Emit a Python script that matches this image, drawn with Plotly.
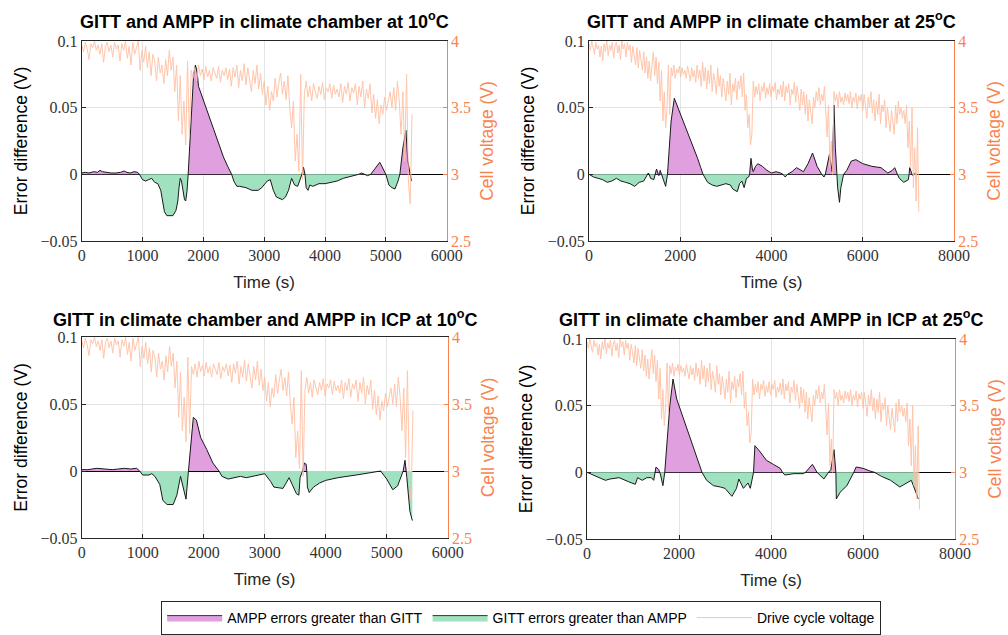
import numpy as np
import plotly.graph_objects as go

# ---------------- data ----------------
V_STEP = 30  # s, sampling of drive-cycle voltage
volt_10 = [
    3.97, 3.92, 3.99, 3.94, 3.86, 3.98, 3.95, 4.00, 3.93, 3.97,
    3.90, 3.98, 3.84, 3.96, 3.99, 3.92, 3.97, 3.88, 3.99, 3.94,
    3.97, 3.85, 3.98, 3.93, 4.00, 3.87, 3.96, 3.82, 3.99, 3.90,
    3.95, 4.00, 3.78, 3.93, 3.84, 3.96, 3.80, 3.92, 3.74, 3.90,
    3.85, 3.70, 3.88, 3.76, 3.82, 3.68, 3.86, 3.74, 3.93, 3.78,
    3.88, 3.62, 3.82, 3.40, 3.74, 3.30, 3.55, 3.22, 3.85, 3.28,
    3.78, 3.72, 3.80, 3.70, 3.82, 3.74, 3.79, 3.71, 3.81, 3.73,
    3.78, 3.70, 3.80, 3.75, 3.72, 3.81, 3.69, 3.78, 3.74, 3.80,
    3.71, 3.79, 3.66, 3.80, 3.73, 3.82, 3.65, 3.78, 3.70, 3.83,
    3.67, 3.80, 3.72, 3.62, 3.78, 3.68, 3.82, 3.64, 3.76, 3.60,
    3.70, 3.52, 3.66, 3.48, 3.62, 3.55, 3.72, 3.58, 3.68, 3.76,
    3.60, 3.70, 3.56, 3.74, 3.50, 3.35, 3.55, 3.10, 3.30, 3.02,
    3.75, 2.96, 3.60, 3.70, 3.58, 3.66, 3.55, 3.68, 3.62, 3.57,
    3.66, 3.60, 3.69, 3.56, 3.65, 3.62, 3.68, 3.57, 3.67, 3.60,
    3.64, 3.58, 3.68, 3.54, 3.66, 3.60, 3.69, 3.55, 3.65, 3.61,
    3.68, 3.52, 3.66, 3.58, 3.70, 3.50, 3.64, 3.57, 3.68, 3.46,
    3.60, 3.42, 3.56, 3.38, 3.52, 3.45, 3.58, 3.48, 3.55, 3.62,
    3.50, 3.65, 3.48, 3.70, 3.55, 3.30, 3.62, 3.10, 3.75, 2.95,
    2.78, 3.45,
]
volt_25 = [
    3.98, 3.93, 4.00, 3.95, 3.90, 3.99, 3.94, 3.97, 3.88, 3.96,
    3.85, 3.98, 3.92, 4.00, 3.89, 3.97, 3.93, 3.99, 3.87, 3.96,
    3.99, 3.91, 3.97, 3.86, 4.00, 3.94, 3.98, 3.88, 3.99, 3.93,
    3.97, 3.84, 3.96, 3.90, 3.82, 3.95, 3.80, 3.93, 3.86, 3.78,
    3.92, 3.76, 3.88, 3.72, 3.85, 3.70, 3.82, 3.92, 3.74, 3.88,
    3.68, 3.84, 3.55, 3.78, 3.40, 3.62, 3.35, 3.50, 3.82, 3.45,
    3.80, 3.74, 3.82, 3.72, 3.79, 3.76, 3.81, 3.73, 3.80, 3.75,
    3.78, 3.72, 3.81, 3.74, 3.70, 3.80, 3.73, 3.78, 3.69, 3.82,
    3.72, 3.78, 3.66, 3.84, 3.70, 3.80, 3.64, 3.78, 3.68, 3.82,
    3.62, 3.76, 3.70, 3.60, 3.80, 3.66, 3.74, 3.58, 3.72, 3.64,
    3.55, 3.70, 3.60, 3.76, 3.52, 3.68, 3.62, 3.72, 3.56, 3.70,
    3.64, 3.74, 3.58, 3.76, 3.48, 3.60, 3.35, 3.45, 3.22, 3.30,
    3.70, 3.58, 3.66, 3.60, 3.68, 3.55, 3.66, 3.62, 3.69, 3.57,
    3.65, 3.60, 3.68, 3.58, 3.66, 3.62, 3.69, 3.56, 3.64, 3.60,
    3.67, 3.58, 3.70, 3.55, 3.66, 3.61, 3.68, 3.52, 3.64, 3.60,
    3.69, 3.54, 3.66, 3.58, 3.48, 3.64, 3.52, 3.62, 3.45, 3.60,
    3.40, 3.56, 3.48, 3.38, 3.58, 3.50, 3.62, 3.55, 3.65, 3.52,
    3.60, 3.55, 3.66, 3.48, 3.28, 3.52, 3.05, 3.25, 3.00, 3.62,
    3.55, 3.60, 3.50, 3.62, 3.54, 3.58, 3.52, 3.61, 3.55, 3.60,
    3.53, 3.62, 3.50, 3.58, 3.54, 3.61, 3.49, 3.59, 3.55, 3.60,
    3.48, 3.60, 3.52, 3.42, 3.58, 3.50, 3.62, 3.46, 3.56, 3.40,
    3.55, 3.45, 3.60, 3.38, 3.52, 3.47, 3.56, 3.35, 3.50, 3.42,
    3.32, 3.48, 3.40, 3.30, 3.52, 3.38, 3.55, 3.45, 3.50, 3.42,
    3.48, 3.38, 3.52, 3.20, 3.40, 3.05, 3.50, 2.90, 3.20, 2.80,
    3.35, 2.72,
]

t_cc10 = [0, 60, 120, 200, 260, 300, 340, 400, 480, 560, 640, 700, 740, 800, 860, 920, 950,
          1000, 1050, 1100, 1150, 1200, 1250, 1300, 1330, 1360, 1400, 1450, 1500, 1550, 1580,
          1600, 1620, 1640, 1660, 1690, 1710, 1730, 1750, 1800, 1840, 1870, 1900, 1920, 1980,
          2055, 2140, 2220, 2280, 2330, 2400, 2465, 2500, 2550, 2600, 2700, 2800, 2900, 2960,
          3000, 3050, 3100, 3150, 3200, 3300, 3350, 3400, 3450, 3500, 3550, 3590, 3620, 3645,
          3670, 3690, 3720, 3750, 3800, 3900, 4000, 4100, 4200, 4300, 4400, 4500, 4550, 4600,
          4650, 4700, 4750, 4900, 5000, 5050, 5100, 5150, 5200, 5230, 5280, 5330, 5360, 5400, 5420]
e_cc10 = [0.001, 0.0015, 0.001, 0.002, 0.0015, 0.003, 0.002, 0.0015, 0.001, 0.001, 0.0015, 0.0025,
          0.0015, 0.001, 0.002, 0.0015, 0.0,
          -0.004, -0.005, -0.004, -0.003, -0.006, -0.007, -0.012, -0.02, -0.028, -0.031, -0.031,
          -0.031, -0.027, -0.02, -0.01, -0.003, -0.005, -0.012, -0.019, -0.02, -0.013, 0.0, 0.04,
          0.075, 0.082, 0.076, 0.066, 0.058, 0.048, 0.037, 0.026, 0.019, 0.013, 0.006, 0.0,
          -0.005, -0.009, -0.009, -0.01, -0.012, -0.012, -0.01, -0.008, -0.005, -0.004, -0.012,
          -0.017, -0.019, -0.017, -0.012, -0.003, -0.008, -0.009, -0.004, 0.0, 0.0055, 0.0,
          -0.01, -0.012, -0.008, -0.009, -0.007, -0.007, -0.006, -0.005, -0.003, -0.002, -0.001,
          0.0, 0.001, 0.0, -0.001, 0.0, 0.009, 0.0, -0.008, -0.01, -0.011, -0.005, 0.0, 0.02,
          0.033, 0.01, 0.0, -0.005]

t_cc25 = [0, 100, 200, 300, 400, 500, 600, 700, 800, 900, 1000, 1100, 1200, 1250, 1280, 1300,
          1320, 1350, 1420, 1450, 1480, 1520, 1530, 1545, 1560, 1590, 1620, 1680, 1720, 1800,
          1870, 1950, 2100, 2200, 2300, 2380, 2450, 2500, 2600, 2700, 2800, 2900, 3000, 3100,
          3150, 3250, 3300, 3350, 3400, 3450, 3500, 3520, 3550, 3580, 3600, 3650, 3700, 3800,
          3900, 4000, 4100, 4200, 4250, 4300, 4350, 4450, 4550, 4700, 4800, 4900, 5000, 5100,
          5150, 5180, 5200, 5270, 5330, 5370, 5400, 5430, 5450, 5490, 5520, 5580, 5650, 5750,
          5850, 6000, 6200, 6400, 6550, 6650, 6700, 6760, 6800, 6900, 7000, 7015, 7030, 7080,
          7100, 7150, 7180]
e_cc25 = [0.0, -0.002, -0.003, -0.004, -0.006, -0.005, -0.003, -0.005, -0.006, -0.007, -0.009,
          -0.006, -0.005, -0.002, 0.0, 0.001, 0.0, -0.003, -0.004, 0.0, 0.004, 0.0, -0.001, 0.0,
          0.003, 0.0, -0.003, -0.009, 0.0, 0.04, 0.057, 0.05, 0.036, 0.028, 0.02, 0.012, 0.005,
          0.0, -0.006, -0.008, -0.009, -0.008, -0.007, -0.008, -0.011, -0.013, -0.007, -0.005,
          -0.01, -0.003, -0.002, 0.0, 0.012, 0.004, 0.002, 0.006, 0.008, 0.006, 0.003, 0.001,
          0.002, 0.001, 0.0, -0.002, 0.0, 0.002, 0.005, 0.002, 0.008, 0.016, 0.006, 0.0, -0.002,
          0.0, 0.004, 0.015, 0.002, 0.052, 0.02, 0.0, -0.01, -0.021, -0.01, 0.0, 0.003, 0.01,
          0.011, 0.008, 0.006, 0.005, 0.001, 0.003, 0.005, 0.0, -0.003, -0.006, -0.004, 0.0,
          0.005, 0.0, -0.001, 0.001, 0.0]

t_icp10 = [0, 100, 250, 350, 500, 600, 700, 800, 900, 950, 1000, 1100, 1150, 1200, 1280, 1330,
           1400, 1500, 1560, 1620, 1660, 1710, 1750, 1800, 1830, 1880, 1950, 2050, 2150, 2250,
           2300, 2400, 2500, 2600, 2700, 2800, 2900, 3000, 3100, 3150, 3300, 3400, 3450, 3520,
           3560, 3580, 3620, 3650, 3680, 3690, 3700, 3730, 3800, 3900, 4000, 4200, 4500, 4800,
           4900, 5000, 5100, 5180, 5250, 5270, 5300, 5320, 5330, 5380, 5420]
e_icp10 = [0.001, 0.001, 0.002, 0.0015, 0.001, 0.0015, 0.002, 0.0015, 0.002, 0.0, -0.003, -0.003,
           -0.002, -0.004, -0.01, -0.022, -0.025, -0.025, -0.018, -0.004, -0.012, -0.021, 0.0,
           0.028, 0.04, 0.038, 0.025, 0.016, 0.006, 0.0, -0.004, -0.006, -0.005, -0.004, -0.005,
           -0.004, -0.003, -0.002, -0.008, -0.012, -0.013, -0.005, -0.01, -0.017, -0.018, -0.005,
           0.0, 0.006, 0.005, 0.0, -0.012, -0.016, -0.012, -0.009, -0.007, -0.005, -0.003,
           -0.001, 0.0, -0.006, -0.014, -0.011, -0.003, 0.0, 0.008, 0.0, -0.005, -0.03, -0.037]

t_icp25 = [0, 200, 400, 500, 700, 900, 1050, 1100, 1200, 1300, 1400, 1450, 1475, 1500, 1560,
           1580, 1600, 1650, 1690, 1800, 1870, 1950, 2100, 2300, 2450, 2500, 2600, 2750, 2900,
           3000, 3150, 3250, 3300, 3400, 3500, 3550, 3620, 3650, 3750, 3900, 4050, 4200, 4250,
           4300, 4500, 4700, 4750, 4800, 4900, 5000, 5150, 5250, 5300, 5370, 5400, 5410, 5420,
           5500, 5650, 5750, 5800, 5850, 6000, 6150, 6250, 6400, 6600, 6800, 6950, 7050, 7150,
           7200]
e_icp25 = [0.0, -0.003, -0.006, -0.005, -0.004, -0.007, -0.009, -0.004, -0.006, -0.004, -0.004,
           -0.006, 0.0, 0.004, 0.002, 0.0, -0.002, -0.01, 0.0, 0.05, 0.07, 0.055, 0.04, 0.02,
           0.005, 0.0, -0.006, -0.01, -0.011, -0.012, -0.018, -0.012, -0.005, -0.012, -0.008,
           -0.012, 0.0, 0.02, 0.016, 0.009, 0.006, 0.003, 0.0, -0.002, -0.001, -0.001, 0.0,
           0.002, 0.006, 0.0, -0.005, 0.0, 0.002, 0.017, 0.005, 0.0, -0.02, -0.015, -0.01,
           -0.004, 0.0, 0.004, 0.003, 0.001, 0.0, -0.003, -0.006, -0.011, -0.008, -0.006,
           -0.015, -0.02]

titles = [
    "GITT and AMPP in climate chamber at 10<sup>o</sup>C",
    "GITT and AMPP in climate chamber at 25<sup>o</sup>C",
    "GITT in climate chamber and AMPP in ICP at 10<sup>o</sup>C",
    "GITT in climate chamber and AMPP in ICP at 25<sup>o</sup>C",
]
legend_names = ["AMPP errors greater than GITT", "GITT errors greater than AMPP",
                "Drive cycle voltage"]
err_ticks = [-0.05, 0, 0.05, 0.1]
err_ticktext = ["\u22120.05", "0", "0.05", "0.1"]
volt_ticks = [2.5, 3, 3.5, 4]
volt_ticktext = ["2.5", "3", "3.5", "4"]

# ---------------- styling ----------------
W, H = 1008, 635
MAGENTA = "#E0A0E0"
GREEN = "#A0E2C0"
VOLT = "#FFC0A3"
ORANGE = "#F9834F"
SERIF = "Liberation Serif, DejaVu Serif, serif"
SANS = "Liberation Sans, Arial, sans-serif"

# pixel boxes of the four plot areas (left, right, top, bottom)
boxes = [(81.7, 446.7, 41, 241), (589, 954, 41, 241),
         (81.7, 447.7, 337, 538), (587, 955, 339, 539)]
title_y = [21, 21, 319, 319]

panels = [
    (t_cc10, e_cc10, volt_10, 6000, [0, 1000, 2000, 3000, 4000, 5000, 6000]),
    (t_cc25, e_cc25, volt_25, 8000, [0, 2000, 4000, 6000, 8000]),
    (t_icp10, e_icp10, volt_10, 6000, [0, 1000, 2000, 3000, 4000, 5000, 6000]),
    (t_icp25, e_icp25, volt_25, 8000, [0, 2000, 4000, 6000, 8000]),
]

fig = go.Figure()
layout = {}
annotations = []

for i, (t, e, v, xmax, xt) in enumerate(panels):
    xn = "x" if i == 0 else f"x{i+1}"
    ya = "y" if i == 0 else f"y{2*i+1}"
    yb = f"y{2*i+2}"
    t = np.array(t, dtype=float)
    e = np.array(e, dtype=float)
    pos = np.maximum(e, 0)
    neg = np.minimum(e, 0)
    fig.add_trace(go.Scatter(x=t, y=pos, fill="tozeroy", mode="lines", line=dict(width=0),
                             fillcolor=MAGENTA, xaxis=xn, yaxis=ya, showlegend=False,
                             hoverinfo="skip"))
    fig.add_trace(go.Scatter(x=t, y=neg, fill="tozeroy", mode="lines", line=dict(width=0),
                             fillcolor=GREEN, xaxis=xn, yaxis=ya, showlegend=False,
                             hoverinfo="skip"))
    fig.add_trace(go.Scatter(x=t, y=e, mode="lines", line=dict(color="#1a1a1a", width=1),
                             xaxis=xn, yaxis=ya, showlegend=False))
    tv = np.arange(len(v)) * V_STEP
    fig.add_trace(go.Scatter(x=tv, y=v, mode="lines", line=dict(color=VOLT, width=1),
                             opacity=0.9, xaxis=xn, yaxis=yb, showlegend=False))

    l, r, tp, b = boxes[i]
    xd = [l / W, r / W]
    yd = [1 - b / H, 1 - tp / H]
    xkey = "xaxis" if i == 0 else f"xaxis{i+1}"
    yakey = "yaxis" if i == 0 else f"yaxis{2*i+1}"
    ybkey = f"yaxis{2*i+2}"
    layout[xkey] = dict(domain=xd, anchor=ya, range=[0, xmax], tickvals=xt,
                        ticktext=[str(x) for x in xt], showline=True, linecolor="#262626",
                        linewidth=1, mirror=True, ticks="inside", ticklen=4,
                        tickcolor="#262626", showgrid=True, gridcolor="#E3E3E3",
                        zeroline=False, tickfont=dict(family=SERIF, size=16, color="#333"),
                        title=dict(text="Time (s)", font=dict(family=SANS, size=17, color="#262626"),
                                   standoff=12))
    layout[yakey] = dict(domain=yd, anchor=xn, range=[-0.05, 0.1], tickvals=err_ticks,
                         ticktext=err_ticktext, showline=True, linecolor="#262626",
                         linewidth=1, ticks="inside", ticklen=4, tickcolor="#262626",
                         showgrid=True, gridcolor="#E3E3E3", zeroline=True,
                         zerolinecolor="#000000", zerolinewidth=1,
                         tickfont=dict(family=SERIF, size=16, color="#333"),
                         title=dict(text="Error difference (V)",
                                    font=dict(family=SANS, size=17.5, color="#000"), standoff=8))
    layout[ybkey] = dict(overlaying=ya, anchor=xn, side="right", range=[2.5, 4],
                         tickvals=volt_ticks, ticktext=volt_ticktext, showline=True,
                         linecolor=ORANGE, linewidth=1, ticks="inside", ticklen=4,
                         tickcolor=ORANGE, showgrid=False, zeroline=False,
                         tickfont=dict(family=SERIF, size=16, color=ORANGE),
                         title=dict(text="Cell voltage (V)",
                                    font=dict(family=SANS, size=17.5, color=ORANGE), standoff=10))
    annotations.append(dict(text="<b>" + titles[i] + "</b>", x=(xd[0] + xd[1]) / 2,
                            y=1 - title_y[i] / H, xref="paper", yref="paper",
                            xanchor="center", yanchor="middle", showarrow=False,
                            font=dict(family=SANS, size=18, color="#000")))

# legend-only entries
fig.add_trace(go.Scatter(x=[None], y=[None], mode="lines", fill="toself", fillcolor=MAGENTA,
                         line=dict(color="#333", width=1), name=legend_names[0]))
fig.add_trace(go.Scatter(x=[None], y=[None], mode="lines", fill="toself", fillcolor=GREEN,
                         line=dict(color="#333", width=1), name=legend_names[1]))
fig.add_trace(go.Scatter(x=[None], y=[None], mode="lines", line=dict(color=VOLT, width=1),
                         name=legend_names[2]))

fig.update_layout(**layout)
fig.update_layout(
    width=W, height=H, margin=dict(l=0, r=0, t=0, b=0, autoexpand=False),
    paper_bgcolor="white", plot_bgcolor="white",
    annotations=annotations,
    showlegend=True,
    legend=dict(orientation="h", x=0.517, xanchor="center", y=0.0, yanchor="bottom",
                bordercolor="#262626", borderwidth=1, bgcolor="white",
                font=dict(family="Liberation Sans Narrow, Liberation Sans, Arial", size=14,
                          color="#000"),
                itemwidth=55, tracegroupgap=0, itemclick=False),
)

fig.write_html("out.html")
